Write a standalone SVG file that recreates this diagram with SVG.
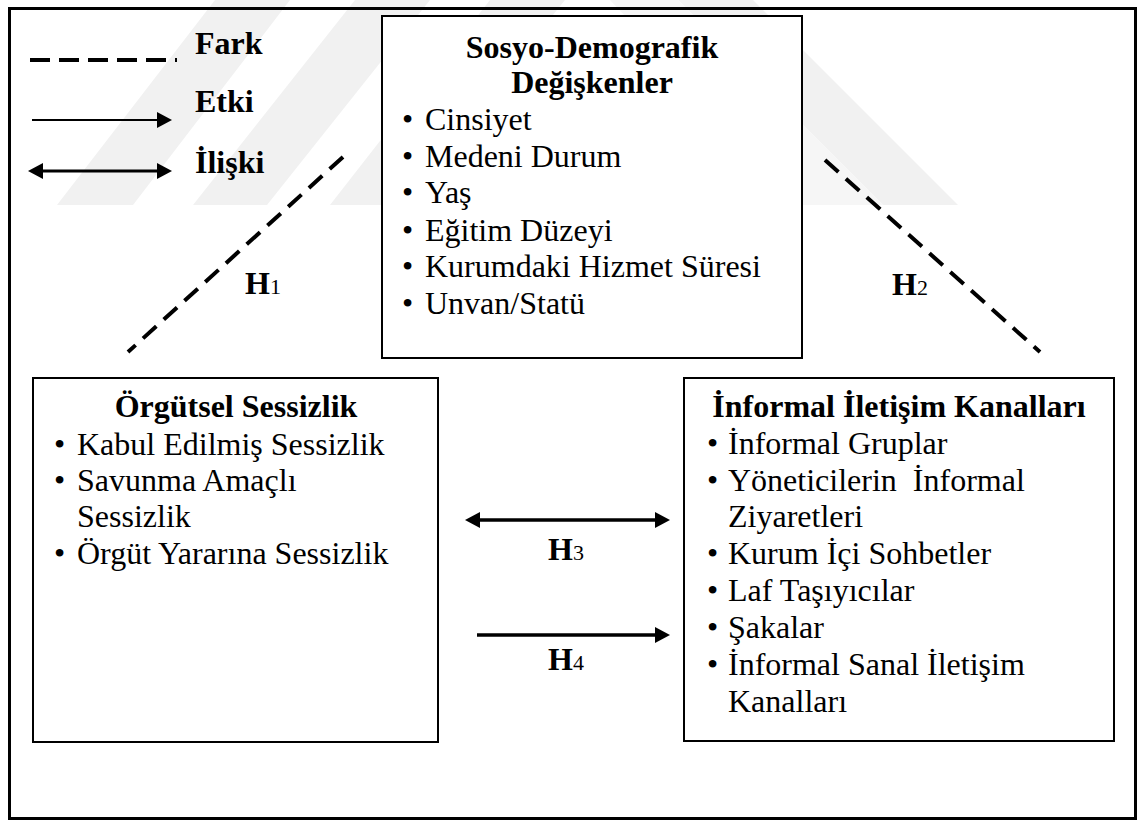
<svg xmlns="http://www.w3.org/2000/svg" width="1138" height="821" viewBox="0 0 1138 821">
<style>
text{font-family:"Liberation Serif","Times New Roman",serif;font-size:32px;fill:#000}
.b{font-weight:bold}
.c{text-anchor:middle}
.sub{font-size:22px;font-weight:normal}
.box{fill:#fff;stroke:#000;stroke-width:2}
.dash{fill:none;stroke:#000;stroke-width:4;stroke-dasharray:18 10}
.arr{fill:none;stroke:#000}
.wm{fill:#f1f1f1}
</style>
<defs>
<marker id="ah" markerUnits="userSpaceOnUse" markerWidth="16" markerHeight="16" viewBox="0 0 15 16" refX="10" refY="8" orient="auto-start-reverse">
<path d="M0,0 L15,8 L0,16 z" fill="#000"/>
</marker>
</defs>
<rect width="1138" height="821" fill="#fff"/>
<g id="watermark">
<polygon class="wm" points="215,0 290,0 133,205 57,205"/>
<polygon class="wm" points="355,0 430,0 267,205 193,205"/>
<polygon class="wm" points="490,0 565,0 400,205 330,205"/>
<polygon class="wm" points="678,0 753,0 958,205 883,205"/>
<polygon fill="#f6f6f6" points="610,0 678,0 883,205 803,205"/>
</g>
<rect id="frame" x="9.5" y="8.5" width="1126" height="810" fill="none" stroke="#000" stroke-width="3"/>
<g id="legend">
<line x1="30" y1="60" x2="177" y2="60" stroke="#000" stroke-width="4" stroke-dasharray="20 9"/>
<text class="b" x="195" y="54">Fark</text>
<line class="arr" x1="32" y1="120" x2="167" y2="120" stroke-width="2" marker-end="url(#ah)"/>
<text class="b" x="195" y="112">Etki</text>
<line class="arr" x1="33" y1="171" x2="167" y2="171" stroke-width="3" marker-start="url(#ah)" marker-end="url(#ah)"/>
<text class="b" x="195" y="173">İlişki</text>
</g>
<g id="node-sosyo">
<rect class="box" x="382" y="16" width="420" height="342"/>
<text class="b c" x="592" y="58">Sosyo-Demografik</text>
<text class="b c" x="592" y="93">Değişkenler</text>
<text x="402" y="130">•</text><text x="425" y="130">Cinsiyet</text>
<text x="402" y="167">•</text><text x="425" y="167">Medeni Durum</text>
<text x="402" y="203">•</text><text x="425" y="203">Yaş</text>
<text x="402" y="241">•</text><text x="425" y="241">Eğitim Düzeyi</text>
<text x="402" y="277">•</text><text x="425" y="277">Kurumdaki Hizmet Süresi</text>
<text x="402" y="314">•</text><text x="425" y="314">Unvan/Statü</text>
</g>
<g id="node-orgutsel">
<rect class="box" x="33" y="378" width="405" height="364"/>
<text class="b c" x="236" y="417">Örgütsel Sessizlik</text>
<text x="54" y="455">•</text><text x="77" y="455">Kabul Edilmiş Sessizlik</text>
<text x="54" y="491">•</text><text x="77" y="491">Savunma Amaçlı</text>
<text x="77" y="527">Sessizlik</text>
<text x="54" y="564">•</text><text x="77" y="564">Örgüt Yararına Sessizlik</text>
</g>
<g id="node-informal">
<rect class="box" x="684" y="378" width="430" height="363"/>
<text class="b c" x="899" y="417">İnformal İletişim Kanalları</text>
<text x="707" y="454">•</text><text x="728" y="454">İnformal Gruplar</text>
<text x="707" y="491">•</text><text x="728" y="491" xml:space="preserve">Yöneticilerin  İnformal</text>
<text x="728" y="527">Ziyaretleri</text>
<text x="707" y="564">•</text><text x="728" y="564">Kurum İçi Sohbetler</text>
<text x="707" y="601">•</text><text x="728" y="601">Laf Taşıyıcılar</text>
<text x="707" y="638">•</text><text x="728" y="638">Şakalar</text>
<text x="707" y="675">•</text><text x="728" y="675">İnformal Sanal İletişim</text>
<text x="728" y="712">Kanalları</text>
</g>
<g id="connectors">
<line class="dash" x1="343" y1="157" x2="128" y2="352"/>
<line class="dash" x1="825" y1="160" x2="1040" y2="352"/>
<line class="arr" x1="470" y1="520" x2="665" y2="520" stroke-width="3.5" marker-start="url(#ah)" marker-end="url(#ah)"/>
<line class="arr" x1="477" y1="635" x2="665" y2="635" stroke-width="3.5" marker-end="url(#ah)"/>
</g>
<g id="labels">
<text class="b" x="245" y="294">H<tspan class="sub">1</tspan></text>
<text class="b" x="892" y="295">H<tspan class="sub">2</tspan></text>
<text class="b" x="548" y="560">H<tspan class="sub">3</tspan></text>
<text class="b" x="548" y="670">H<tspan class="sub">4</tspan></text>
</g>
</svg>
